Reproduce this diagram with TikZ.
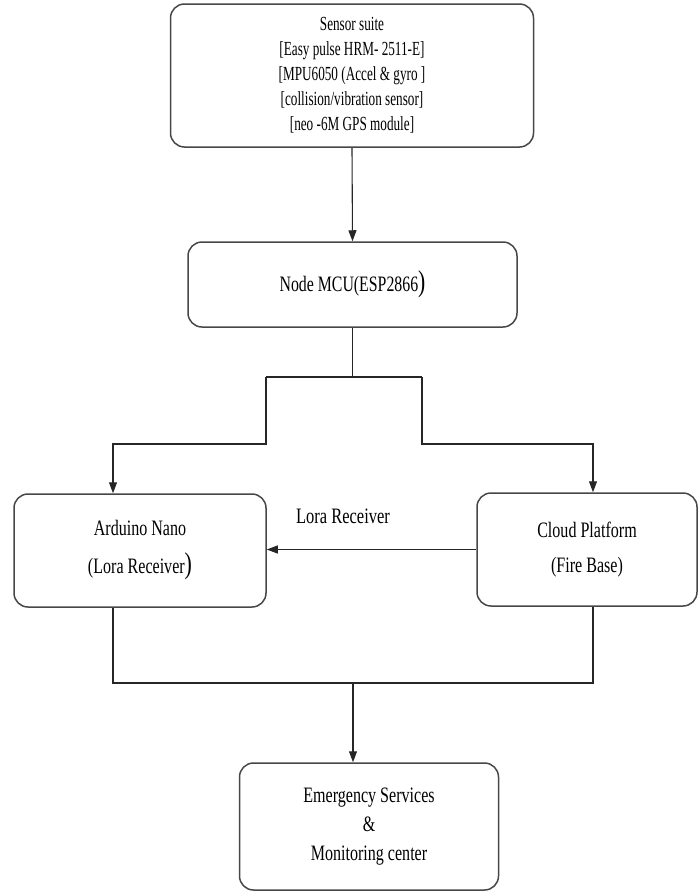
\documentclass[tikz,border=0pt]{standalone}
\usepackage{fontspec}
\setmainfont{Liberation Serif}
\usetikzlibrary{arrows.meta}
\newcommand{\sx}[2]{\scalebox{#1}[1]{#2}}
\newcommand{\bigrp}{{\fontsize{30}{30}\selectfont )}}
\begin{document}
\begin{tikzpicture}[x=1pt,y=-1pt,
  box/.style={draw=black!72, line width=1.5pt, rounded corners=14pt, align=center, inner sep=0pt},
  conn/.style={draw=black!85, line width=1.1pt},
  arr/.style={conn, -{Triangle[width=8pt,length=11pt]}},
  lbl/.style={inner sep=0pt, font=\fontsize{22}{26}\selectfont}
]
\useasboundingbox (0,0) rectangle (698,892);

\node[box, minimum width=363pt, minimum height=143pt, font=\fontsize{20}{25}\selectfont] (sensor) at (352,75.5)
  {\sx{0.66}{Sensor suite}\\ \sx{0.66}{[Easy pulse HRM- 2511-E]}\\ \sx{0.66}{[MPU6050 (Accel \& gyro ]}\\ \sx{0.66}{[collision/vibration sensor]}\\ \sx{0.66}{[neo -6M GPS module]}};

\node[box, minimum width=329pt, minimum height=85pt, font=\fontsize{22}{26}\selectfont] (mcu) at (352.5,284.5)
  {\sx{0.72}{Node MCU(ESP2866\bigrp}};

\node[box, minimum width=252pt, minimum height=113pt, font=\fontsize{22}{38}\selectfont] (ard) at (140,550.5)
  {\sx{0.73}{Arduino Nano}\\ \sx{0.73}{(Lora Receiver\bigrp}};

\node[box, minimum width=220pt, minimum height=113pt, font=\fontsize{22}{35}\selectfont] (cloud) at (587,549.5)
  {\sx{0.73}{Cloud Platform}\\ \sx{0.73}{(Fire Base)}};

\node[box, minimum width=259pt, minimum height=127pt, font=\fontsize{22}{29}\selectfont] (emer) at (369,826.5)
  {\sx{0.73}{Emergency Services}\\ \sx{0.73}{\&}\\ \sx{0.73}{Monitoring center}};

\node[lbl] (loralbl) at (343,516) {\sx{0.75}{Lora Receiver}};

\coordinate (bl) at (266,377);
\coordinate (br) at (422,377);
\coordinate (bot) at (353,683);

\draw[arr] (sensor.south) -- (mcu.north);
\draw[conn] (mcu.south) -- (mcu.south |- bl);
\draw[conn] (bl) -- (br);
\draw[arr] (bl) -- (266,444) -| ([xshift=-27pt]ard.north);
\draw[arr] (br) -- (422,444) -| ([xshift=6pt]cloud.north);
\draw[arr] (cloud.west) -- (ard.east |- cloud.west);
\draw[conn] ([xshift=-27pt]ard.south) |- (bot) -| ([xshift=6pt]cloud.south);
\draw[arr] (bot) -- (bot |- emer.north);
\end{tikzpicture}
\end{document}
